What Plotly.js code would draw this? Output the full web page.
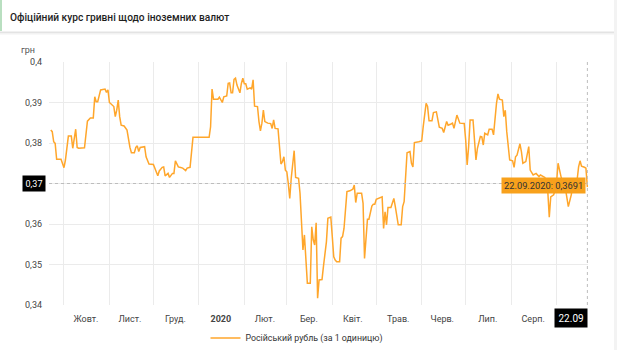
<!DOCTYPE html>
<html>
<head>
<meta charset="utf-8">
<script src="https://cdn.plot.ly/plotly-3.0.1.min.js"></script>
<style>
  html, body { margin: 0; padding: 0; background: #ffffff; }
  #chart { width: 617px; height: 350px; }
</style>
</head>
<body>
<div id="chart"></div>
<script>
// ---- DATA ----
const seriesName = 'Російський рубль (за 1 одиницю)';
const dates = [
  '2019-09-22','2019-09-23','2019-09-24','2019-09-25','2019-09-26','2019-09-29',
  '2019-10-01','2019-10-02','2019-10-04','2019-10-06','2019-10-07','2019-10-09','2019-10-10','2019-10-11',
  '2019-10-15','2019-10-17','2019-10-19','2019-10-21','2019-10-22','2019-10-23','2019-10-24','2019-10-26',
  '2019-10-29','2019-10-30','2019-10-31',
  '2019-11-01','2019-11-04','2019-11-05','2019-11-06','2019-11-07','2019-11-08','2019-11-09','2019-11-11',
  '2019-11-13','2019-11-15','2019-11-16','2019-11-18','2019-11-19','2019-11-20','2019-11-21','2019-11-22',
  '2019-11-25','2019-11-26','2019-11-28',
  '2019-12-01','2019-12-02','2019-12-04','2019-12-05','2019-12-07','2019-12-08','2019-12-09','2019-12-11',
  '2019-12-12','2019-12-14','2019-12-15','2019-12-16','2019-12-18','2019-12-19','2019-12-21','2019-12-23',
  '2019-12-24','2019-12-26','2019-12-28',
  '2020-01-02','2020-01-08','2020-01-09','2020-01-10','2020-01-11','2020-01-14','2020-01-15','2020-01-17',
  '2020-01-18','2020-01-20','2020-01-21','2020-01-22','2020-01-23','2020-01-24','2020-01-25','2020-01-26',
  '2020-01-27','2020-01-29','2020-01-30','2020-01-31',
  '2020-02-01','2020-02-02','2020-02-03','2020-02-05','2020-02-06','2020-02-07','2020-02-08','2020-02-10',
  '2020-02-11','2020-02-12','2020-02-13','2020-02-14','2020-02-15','2020-02-17','2020-02-19','2020-02-20',
  '2020-02-21','2020-02-22','2020-02-24','2020-02-25','2020-02-26','2020-02-27','2020-02-28','2020-02-29',
  '2020-03-01','2020-03-02','2020-03-03','2020-03-04','2020-03-05','2020-03-06','2020-03-07','2020-03-09',
  '2020-03-10','2020-03-11','2020-03-12','2020-03-13','2020-03-14','2020-03-15','2020-03-17','2020-03-18',
  '2020-03-19','2020-03-20','2020-03-21','2020-03-22','2020-03-23','2020-03-25','2020-03-26','2020-03-27',
  '2020-03-28','2020-03-29','2020-03-31',
  '2020-04-01','2020-04-02','2020-04-03','2020-04-04','2020-04-06','2020-04-07','2020-04-08','2020-04-09',
  '2020-04-11','2020-04-13','2020-04-15','2020-04-16','2020-04-17','2020-04-18','2020-04-21','2020-04-22',
  '2020-04-23','2020-04-24','2020-04-25','2020-04-26','2020-04-28','2020-04-29','2020-04-30',
  '2020-05-01','2020-05-04','2020-05-05','2020-05-06','2020-05-07','2020-05-08','2020-05-09','2020-05-11',
  '2020-05-13','2020-05-14','2020-05-16','2020-05-18','2020-05-19','2020-05-20','2020-05-21','2020-05-22',
  '2020-05-24','2020-05-25','2020-05-26','2020-05-27','2020-05-30',
  '2020-06-01','2020-06-02','2020-06-03','2020-06-04','2020-06-05','2020-06-06','2020-06-08','2020-06-09',
  '2020-06-11','2020-06-13','2020-06-15','2020-06-16','2020-06-18','2020-06-19','2020-06-21','2020-06-22',
  '2020-06-23','2020-06-25','2020-06-27','2020-06-30',
  '2020-07-01','2020-07-02','2020-07-03','2020-07-04','2020-07-06','2020-07-07','2020-07-08','2020-07-09',
  '2020-07-11','2020-07-12','2020-07-13','2020-07-14','2020-07-16','2020-07-17','2020-07-19','2020-07-20',
  '2020-07-21','2020-07-22','2020-07-23','2020-07-24','2020-07-26','2020-07-27','2020-07-28','2020-07-29',
  '2020-07-31',
  '2020-08-02','2020-08-03','2020-08-04','2020-08-05','2020-08-07','2020-08-08','2020-08-09','2020-08-11',
  '2020-08-13','2020-08-14','2020-08-16','2020-08-18','2020-08-20','2020-08-21','2020-08-24','2020-08-26',
  '2020-08-27','2020-08-28','2020-08-30','2020-08-31',
  '2020-09-01','2020-09-02','2020-09-04','2020-09-06','2020-09-07','2020-09-09','2020-09-11','2020-09-12',
  '2020-09-14','2020-09-15','2020-09-16','2020-09-17','2020-09-18','2020-09-20','2020-09-21','2020-09-22'
];
const rubRate = [
  0.3832,0.3828,0.3803,0.3799,0.3760,0.3760,
  0.3739,0.3758,0.3817,0.3817,0.3787,0.3834,0.3789,0.3787,
  0.3788,0.3854,0.3862,0.3862,0.3914,0.3902,0.3902,0.3931,
  0.3933,0.3925,0.3931,
  0.3900,0.3890,0.3865,0.3881,0.3906,0.3865,0.3844,0.3842,
  0.3832,0.3789,0.3776,0.3776,0.3789,0.3793,0.3779,0.3789,
  0.3791,0.3766,0.3748,
  0.3747,0.3738,0.3719,0.3731,0.3740,0.3741,0.3719,0.3725,
  0.3715,0.3725,0.3725,0.3756,0.3741,0.3740,0.3738,0.3732,
  0.3738,0.3740,0.3814,
  0.3814,0.3814,0.3840,0.3933,0.3908,0.3908,0.3913,0.3900,
  0.3914,0.3916,0.3947,0.3948,0.3924,0.3924,0.3957,0.3960,
  0.3943,0.3924,0.3947,0.3960,
  0.3946,0.3946,0.3933,0.3936,0.3933,0.3956,0.3891,0.3890,
  0.3853,0.3830,0.3849,0.3881,0.3853,0.3849,0.3848,0.3836,
  0.3857,0.3836,0.3835,0.3791,0.3748,0.3754,0.3766,0.3733,
  0.3729,0.3700,0.3663,0.3713,0.3750,0.3781,0.3715,0.3713,
  0.3676,0.3593,0.3536,0.3573,0.3511,0.3454,0.3454,0.3593,
  0.3561,0.3548,0.3603,0.3417,0.3462,0.3463,0.3496,0.3532,
  0.3556,0.3614,0.3617,
  0.3569,0.3519,0.3511,0.3507,0.3507,0.3565,0.3569,0.3589,
  0.3680,0.3682,0.3686,0.3696,0.3653,0.3676,0.3676,0.3651,
  0.3515,0.3569,0.3612,0.3612,0.3644,0.3649,0.3649,
  0.3661,0.3666,0.3667,0.3589,0.3630,0.3598,0.3641,0.3641,
  0.3663,0.3643,0.3598,0.3598,0.3643,0.3655,0.3717,0.3776,
  0.3779,0.3750,0.3741,0.3801,0.3803,
  0.3805,0.3840,0.3873,0.3898,0.3890,0.3855,0.3855,0.3875,
  0.3877,0.3839,0.3836,0.3826,0.3853,0.3844,0.3847,0.3849,
  0.3836,0.3869,0.3849,0.3848,
  0.3807,0.3746,0.3791,0.3857,0.3857,0.3803,0.3758,0.3787,
  0.3816,0.3815,0.3795,0.3824,0.3820,0.3834,0.3834,0.3820,
  0.3867,0.3898,0.3921,0.3908,0.3906,0.3865,0.3881,0.3828,
  0.3758,
  0.3756,0.3740,0.3766,0.3770,0.3798,0.3779,0.3750,0.3754,
  0.3791,0.3733,0.3721,0.3725,0.3717,0.3721,0.3715,0.3680,
  0.3617,0.3667,0.3672,0.3684,
  0.3704,0.3750,0.3717,0.3696,0.3688,0.3643,0.3672,0.3696,
  0.3709,0.3709,0.3741,0.3756,0.3743,0.3740,0.3738,0.3691
];
const tickDates = ['2019-10-16','2019-11-15','2019-12-16','2020-01-16','2020-02-15','2020-03-16',
                   '2020-04-15','2020-05-16','2020-06-15','2020-07-16','2020-08-16'];
const tickLabels = ['Жовт.','Лист.','Груд.','<b>2020</b>','Лют.','Бер.','Квіт.','Трав.','Черв.','Лип.','Серп.'];
const yTicks = [0.34, 0.35, 0.36, 0.37, 0.38, 0.39, 0.40];
const yUnit = 'грн';
const chartTitle = 'Офіційний курс гривні щодо іноземних валют';

// ---- STYLE / LAYOUT ----
const W = 617, H = 350;
const M = { l: 49, r: 29, t: 62, b: 45, autoexpand: false };
const PW = W - M.l - M.r, PH = H - M.t - M.b;
const px = x => (x - M.l) / PW;           // pixel -> paper x
const py = y => (H - M.b - y) / PH;       // pixel -> paper y

const lineColor = '#ffa62b';
const tipColor = '#f8a11c';
const gridColor = '#ebebeb';

const lastDate = dates[dates.length - 1];
const lastVal = rubRate[rubRate.length - 1];
const crossVal = Math.round(lastVal * 100) / 100;
const fmt = v => String(v).replace('.', ',');
const dParts = lastDate.split('-');
const tipText = dParts[2] + '.' + dParts[1] + '.' + dParts[0] + ': ' + fmt(lastVal);
const xBoxText = dParts[2] + '.' + dParts[1];

const trace = {
  type: 'scatter', mode: 'lines', name: seriesName,
  x: dates, y: rubRate,
  line: { color: lineColor, width: 1.5, shape: 'linear' },
  hoverinfo: 'skip'
};

const fam = 'Roboto, "Open Sans", Arial, sans-serif';

const layout = {
  width: W, height: H,
  margin: M,
  paper_bgcolor: '#ffffff', plot_bgcolor: '#ffffff',
  separators: ',.',
  font: { family: fam, size: 9, color: '#444' },
  showlegend: true,
  legend: {
    orientation: 'h', x: px(297), xanchor: 'center', y: py(338), yanchor: 'middle',
    font: { family: fam, size: 8.8, color: '#333' },
    itemwidth: 30, bgcolor: 'rgba(0,0,0,0)'
  },
  title: {
    text: chartTitle,
    xref: 'container', yref: 'container',
    x: 10 / W, xanchor: 'left', y: 1 - 17 / H, yanchor: 'middle',
    font: { family: fam, size: 10.2, color: '#1e1e1e', weight: 500 }
  },
  xaxis: {
    type: 'date',
    range: ['2019-09-20 19:00', '2020-09-22 10:00'],
    tickmode: 'array', tickvals: tickDates, ticktext: tickLabels,
    showgrid: false, zeroline: false, showline: false, ticks: '',
    ticklabelstandoff: 7,
    tickfont: { family: fam, size: 9, color: '#444' },
    minor: { tick0: '2019-10-01', dtick: 'M1', showgrid: true, gridcolor: gridColor, gridwidth: 1, ticks: '' },
    fixedrange: true
  },
  yaxis: {
    range: [0.34, 0.4],
    tickmode: 'array', tickvals: yTicks,
    showgrid: true, gridcolor: gridColor, gridwidth: 1,
    zeroline: false, showline: false, ticks: '',
    ticklabelstandoff: 6,
    tickfont: { family: fam, size: 9, color: '#444' },
    fixedrange: true
  },
  shapes: [
    // page strip at right
    { type: 'rect', xref: 'paper', yref: 'paper', x0: px(614), x1: px(640), y0: py(400), y1: py(-20),
      fillcolor: '#f3f3f3', line: { width: 0 }, layer: 'below' },
    // header bottom shadow
    { type: 'line', xref: 'paper', yref: 'paper', x0: px(0), x1: px(614), y0: py(32.5), y1: py(32.5),
      line: { color: '#e3e3e3', width: 2 } },
    { type: 'line', xref: 'paper', yref: 'paper', x0: px(0), x1: px(614), y0: py(34), y1: py(34),
      line: { color: '#f2f2f2', width: 1 } },
    // header green accent
    { type: 'rect', xref: 'paper', yref: 'paper', x0: px(0), x1: px(2), y0: py(31), y1: py(0),
      fillcolor: '#b9dfc0', line: { width: 0 } },
    // crosshair horizontal
    { type: 'line', xref: 'paper', yref: 'y', x0: 0, x1: 1, y0: crossVal, y1: crossVal,
      line: { color: '#bdbdbd', width: 1, dash: 'dot' } },
    // crosshair vertical
    { type: 'line', xref: 'x', yref: 'paper', x0: lastDate, x1: lastDate, y0: 0, y1: 1,
      line: { color: '#bdbdbd', width: 1, dash: 'dot' } }
  ],
  annotations: [
    { text: yUnit, xref: 'paper', yref: 'paper', x: px(28), y: py(50), xanchor: 'center', yanchor: 'middle',
      showarrow: false, font: { family: fam, size: 9, color: '#555' } },
    { text: tipText, xref: 'x', yref: 'y', x: lastDate, y: lastVal, xanchor: 'right', yanchor: 'middle',
      xshift: -1, yshift: 1.5, showarrow: false, bgcolor: tipColor, borderpad: 2,
      font: { family: fam, size: 9.3, color: '#333' } },
    { text: fmt(crossVal), xref: 'paper', yref: 'y', x: 0, y: crossVal, xanchor: 'right', yanchor: 'middle',
      xshift: -3, showarrow: false, bgcolor: '#000000', borderpad: 2.5,
      font: { family: fam, size: 9, color: '#ffffff' } },
    { text: xBoxText, xref: 'x', yref: 'paper', x: lastDate, y: 0, xanchor: 'right', yanchor: 'top',
      xshift: 1, yshift: -3, showarrow: false, bgcolor: '#000000', borderpad: 3.5,
      font: { family: fam, size: 10, color: '#ffffff' } }
  ]
};

Plotly.newPlot('chart', [trace], layout, { displayModeBar: false, staticPlot: true });
</script>
</body>
</html>
